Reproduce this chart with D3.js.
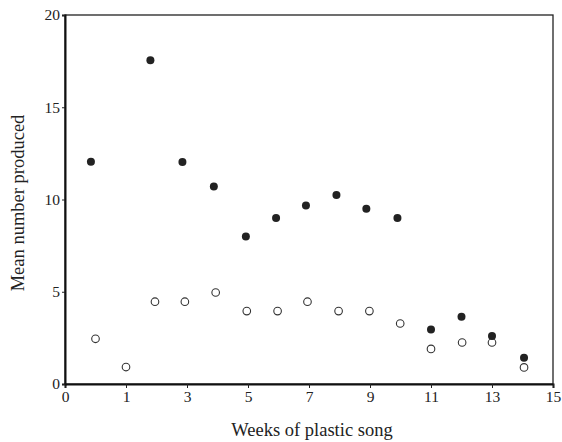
<!DOCTYPE html>
<html>
<head>
<meta charset="utf-8">
<script src="https://cdn.jsdelivr.net/npm/d3@7"></script>
<style>
  body { margin: 0; background: #fff; }
  text { font-family: "Liberation Serif", "DejaVu Serif", serif; fill: #222; }
</style>
</head>
<body>
<div id="chart"></div>
<script>
// weeks (the axis labels 0,1,3,5... are evenly spaced,
// so the "0" label sits one week before week 0)
const filledWeeks = [-0.15, 1.8, 2.85, 3.88, 4.93, 5.92, 6.9, 7.9, 8.88, 9.9, 11, 12, 13, 14.05]
const filledValues = [12.05, 17.55, 12.03, 10.7, 8.0, 9.0, 9.68, 10.25, 9.5, 9.0, 2.95, 3.65, 2.6, 1.42]

const openWeeks = [0, 1, 1.95, 2.93, 3.94, 4.96, 5.97, 6.95, 7.97, 8.98, 9.99, 11, 12.02, 13, 14.05]
const openValues = [2.45, 0.92, 4.46, 4.46, 4.96, 3.95, 3.95, 4.46, 3.95, 3.95, 3.28, 1.9, 2.25, 2.25, 0.9]

const xTickValues = [-1, 1, 3, 5, 7, 9, 11, 13, 15]
const xTickLabels = ['0', '1', '3', '5', '7', '9', '11', '13', '15']
const yTickValues = [0, 5, 10, 15, 20]

const margin = { top: 15, right: 9, bottom: 58, left: 65 }
const width = 562 - margin.left - margin.right
const height = 442 - margin.top - margin.bottom

const svg = d3.select('#chart')
  .append('svg')
  .attr('width', 562)
  .attr('height', 442)

const g = svg.append('g')
  .attr('transform', 'translate(' + margin.left + ',' + margin.top + ')')

const x = d3.scaleLinear().domain([-1, 15]).range([0, width])
const y = d3.scaleLinear().domain([0, 20]).range([height, 0])

// frame
g.append('rect')
  .attr('width', width)
  .attr('height', height)
  .attr('fill', 'none')
  .attr('stroke', '#222')
  .attr('stroke-width', 1.3)

const xAxis = g.append('g')
  .attr('transform', 'translate(0,' + height + ')')
  .call(d3.axisBottom(x)
    .tickValues(xTickValues)
    .tickFormat((d, i) => xTickLabels[i])
    .tickSize(4)
    .tickPadding(3))

const yAxis = g.append('g')
  .call(d3.axisLeft(y)
    .tickValues(yTickValues)
    .tickSize(3)
    .tickPadding(2))

g.selectAll('.domain').attr('stroke', '#111').attr('stroke-width', 2)
g.selectAll('.tick line').attr('stroke', '#222')
g.selectAll('.tick text')
  .style('font-family', '"Liberation Serif", serif')
  .style('font-size', '15.5px')
  .attr('fill', '#222')

// open circles
g.selectAll('.open')
  .data(openWeeks)
  .enter()
  .append('circle')
  .attr('class', 'open')
  .attr('cx', d => x(d))
  .attr('cy', (d, i) => y(openValues[i]))
  .attr('r', 3.8)
  .attr('fill', '#fff')
  .attr('stroke', '#333')
  .attr('stroke-width', 1.1)

// filled circles
g.selectAll('.filled')
  .data(filledWeeks)
  .enter()
  .append('circle')
  .attr('class', 'filled')
  .attr('cx', d => x(d))
  .attr('cy', (d, i) => y(filledValues[i]))
  .attr('r', 4)
  .attr('fill', '#222')

// axis titles
svg.append('text')
  .attr('x', 312)
  .attr('y', 436)
  .attr('text-anchor', 'middle')
  .style('font-size', '18.5px')
  .text('Weeks of plastic song')

svg.append('text')
  .attr('transform', 'translate(24,203) rotate(-90)')
  .attr('text-anchor', 'middle')
  .style('font-size', '18.5px')
  .text('Mean number produced')
</script>
</body>
</html>
